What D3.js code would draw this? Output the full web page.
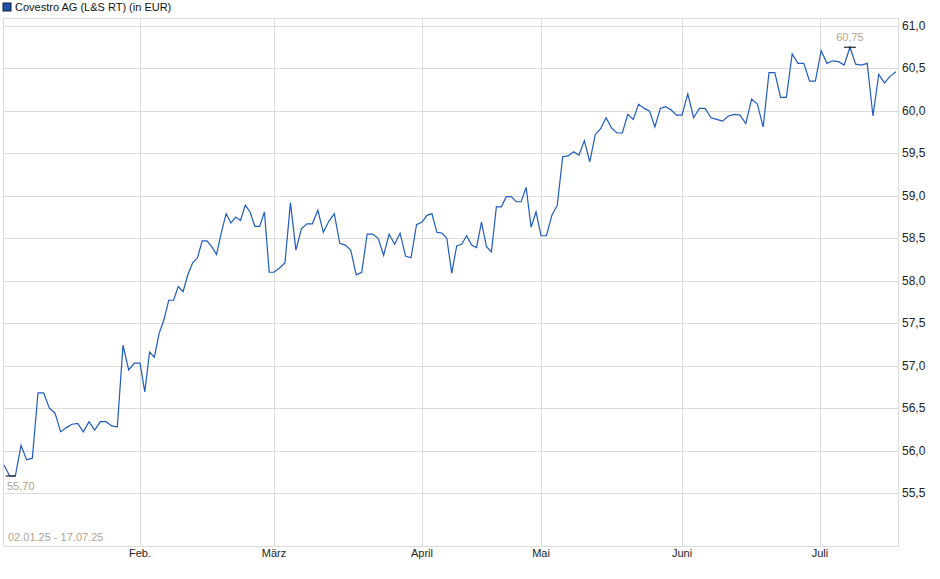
<!DOCTYPE html>
<html><head><meta charset="utf-8">
<script src="https://cdn.jsdelivr.net/npm/d3@7"></script>
<style>body{margin:0;background:#fff}text{font-family:"Liberation Sans",Arial,sans-serif}</style>
</head><body><svg id="c" width="940" height="579"></svg>
<script>
const title = "Covestro AG (L&S RT) (in EUR)";
const period = "02.01.25 - 17.07.25";
const prices = [55.83,55.70,55.70,56.06,55.89,55.91,56.68,56.68,56.50,56.44,56.22,56.27,56.31,56.32,56.22,56.34,56.24,56.34,56.34,56.29,56.28,
57.24,56.95,57.03,57.03,56.69,57.16,57.10,57.38,57.54,57.77,57.77,57.93,57.87,58.07,58.21,58.27,58.47,58.47,58.40,58.31,58.57,58.79,58.68,58.75,58.71,58.89,58.81,58.64,58.64,58.81,
58.10,58.10,58.15,58.21,58.92,58.36,58.61,58.67,58.67,58.83,58.57,58.70,58.79,58.44,58.42,58.36,58.07,58.10,58.55,58.55,58.50,58.30,58.55,58.43,58.56,58.29,58.27,58.66,58.69,
58.77,58.79,58.57,58.56,58.50,58.09,58.41,58.43,58.53,58.42,58.39,58.69,58.40,58.34,58.87,58.87,58.99,58.99,58.93,58.93,59.10,58.63,58.81,58.53,58.53,58.77,58.89,
59.46,59.47,59.52,59.48,59.65,59.40,59.72,59.79,59.92,59.80,59.74,59.74,59.96,59.90,60.08,60.03,60.00,59.81,60.03,60.05,60.01,59.95,59.95,60.20,59.92,60.03,60.03,59.92,59.90,59.88,59.94,59.96,59.95,59.85,60.14,60.08,59.81,
60.45,60.45,60.16,60.16,60.67,60.56,60.56,60.35,60.35,60.71,60.56,60.59,60.58,60.54,60.75,60.55,60.54,60.56,59.94,60.43,60.33,60.41,60.46];
const monthLabels = ["Feb.","März","April","Mai","Juni","Juli"];
const monthIndex = [24,52,79,103,129,152.8];
const yTicks = [55.5,56,56.5,57,57.5,58,58.5,59,59.5,60,60.5,61];
const minLabel = "55,70", maxLabel = "60,75";

const svg = d3.select("#c");
const L=3,R=898,T=18,B=546;
const n = prices.length;
const x = d3.scaleLinear().domain([0,24,52,79,103,129,152.8,n-1]).range([4,140,274,422,541,682,820,896]);
const y = d3.scaleLinear().domain([55.5,61]).range([493,26]);
const fmt = v => d3.format(".1f")(v).replace(".",",");

svg.append("rect").attr("x",L+0.5).attr("y",T+0.5).attr("width",R-L).attr("height",B-T)
  .attr("fill","none").attr("stroke","#dcdcdc");
const g = svg.append("g");
g.selectAll(".hy").data(yTicks).join("line").attr("x1",L).attr("x2",R)
  .attr("y1",d=>Math.round(y(d))+0.5).attr("y2",d=>Math.round(y(d))+0.5).attr("stroke","#dcdcdc");
g.selectAll(".vx").data(monthIndex).join("line").attr("y1",T).attr("y2",B)
  .attr("x1",d=>Math.round(x(d))+0.5).attr("x2",d=>Math.round(x(d))+0.5).attr("stroke","#dcdcdc");
svg.selectAll(".yl").data(yTicks).join("text").attr("x",902).attr("y",d=>y(d)+4)
  .attr("font-size",12).attr("fill","#222").text(fmt);
svg.selectAll(".xl").data(monthLabels).join("text").attr("x",(d,i)=>x(monthIndex[i])).attr("y",557)
  .attr("text-anchor","middle").attr("font-size",11).attr("fill","#222").text(d=>d);

svg.append("path").datum(prices).attr("fill","none").attr("stroke","#1f5bbf").attr("stroke-width",1.2)
  .attr("d",d3.line().x((d,i)=>x(i)).y(d=>y(d)));

// min / max markers
const iMin = prices.indexOf(d3.min(prices)), iMax = prices.indexOf(d3.max(prices));
svg.append("line").attr("x1",x(iMin)-4).attr("x2",x(iMin)+6).attr("y1",y(prices[iMin])).attr("y2",y(prices[iMin])).attr("stroke","#000");
svg.append("text").attr("x",7).attr("y",y(prices[iMin])+14).attr("font-size",11).attr("fill","#b0a490").text(minLabel);
svg.append("line").attr("x1",x(iMax)-6).attr("x2",x(iMax)+6).attr("y1",y(prices[iMax])).attr("y2",y(prices[iMax])).attr("stroke","#000");
svg.append("text").attr("x",x(iMax)).attr("y",y(prices[iMax])-6).attr("text-anchor","middle").attr("font-size",11).attr("fill","#b0a490").text(maxLabel);

svg.append("text").attr("x",8).attr("y",541).attr("font-size",11).attr("fill","#b0a490").text(period);
svg.append("rect").attr("x",3).attr("y",3).attr("width",8).attr("height",8).attr("fill","#1f4fa8").attr("stroke","#123");
svg.append("text").attr("x",15).attr("y",11).attr("font-size",11).attr("fill","#111").text(title);
</script></body></html>
